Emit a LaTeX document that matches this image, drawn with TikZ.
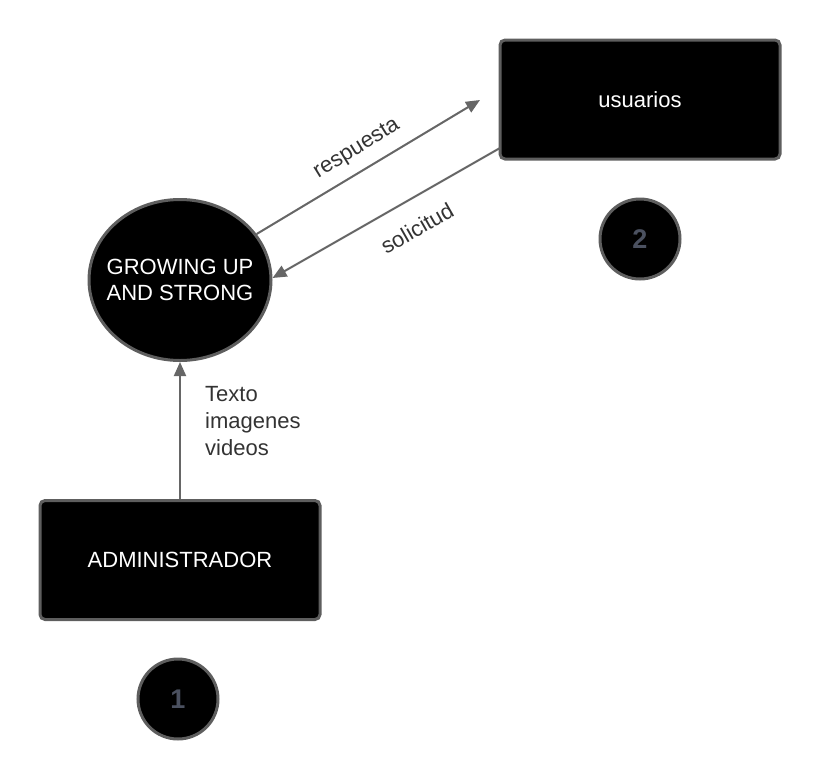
\documentclass[tikz,border=0pt]{standalone}
\usepackage{fontspec}
\setmainfont{Liberation Sans}
\usetikzlibrary{shapes.geometric,arrows.meta}
\definecolor{edge}{HTML}{5E5E5E}
\definecolor{arrowc}{HTML}{666666}
\definecolor{numc}{HTML}{4B5160}
\definecolor{labc}{HTML}{333333}
\tikzset{
  entity/.style={draw=edge,line width=3pt,fill=black,rounded corners=5pt,minimum width=280pt,minimum height=119pt,text=white,font=\fontsize{22}{26}\selectfont,inner sep=0pt},
  proc/.style={ellipse,draw=edge,line width=3pt,fill=black,minimum width=182pt,minimum height=161pt,text=white,font=\fontsize{22}{26}\selectfont,align=center,inner ysep=0pt,inner xsep=-16pt},
  numc/.style={circle,draw=edge,line width=3pt,fill=black,minimum size=80pt,inner sep=0pt,text=numc,font=\fontsize{27}{30}\selectfont\bfseries},
  flow/.style={draw=arrowc,line width=2pt,-{Triangle[length=14pt,width=12pt]}},
  lab/.style={text=labc,font=\fontsize{22}{27}\selectfont,inner sep=0pt}
}
\begin{document}
\begin{tikzpicture}[x=1pt,y=-1pt]
\useasboundingbox (0,0) rectangle (820,780);
\node[entity] (us) at (640,99.5) {usuarios};
\node[numc] (n2) at (640,239) {2};
\node[proc] (gu) at (180,280) {GROWING UP\\AND STRONG};
\node[entity] (ad) at (180,560) {ADMINISTRADOR};
\node[numc] (n1) at (178,699) {1};
\coordinate (r2) at (480,100);
\coordinate (s1) at (500,148);
\draw[flow] (gu) -- (r2);
\draw[flow] (s1) -- ([yshift=2pt]gu.east);
\draw[flow] (ad.north) -- (gu.south);
\node[lab,rotate=31.7] (lr) at (357,149) {respuesta};
\node[lab,rotate=29.7] (ls) at (417,228) {solicitud};
\node[lab,align=left,anchor=north west] (lt) at (205,386) {Texto\\imagenes\\videos};
\end{tikzpicture}
\end{document}
